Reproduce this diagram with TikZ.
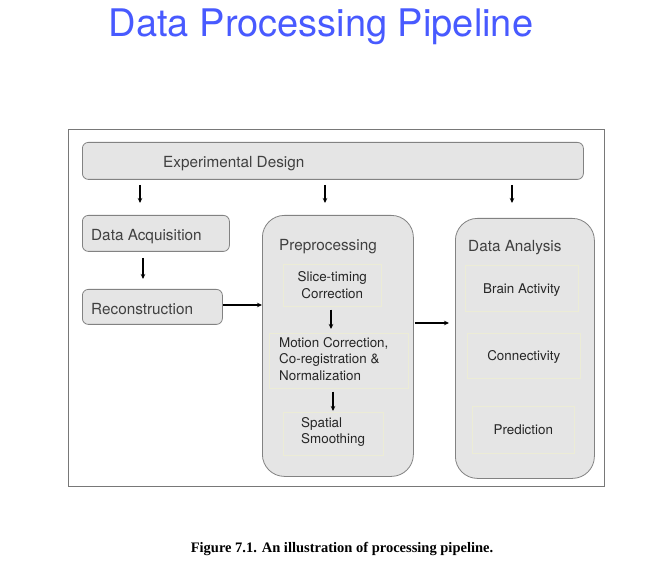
\documentclass[tikz,border=0pt]{standalone}
\usepackage{fontspec}
\setmainfont{TeX Gyre Heros}
\newfontfamily\capfont{Liberation Serif}
\usetikzlibrary{arrows.meta}
\definecolor{boxfill}{RGB}{229,229,229}
\definecolor{boxline}{RGB}{130,130,130}
\definecolor{subline}{RGB}{236,236,214}
\definecolor{titleblue}{RGB}{72,90,255}
\definecolor{framegray}{RGB}{120,120,120}
\tikzset{
  stagebox/.style={draw=boxline, fill=boxfill, line width=0.8pt, rounded corners=6pt, anchor=north west, inner sep=0pt},
  bigbox/.style={draw=boxline, fill=boxfill, line width=0.8pt, rounded corners=22pt, anchor=north west, inner sep=0pt},
  subbox/.style={draw=subline, fill=boxfill, line width=0.6pt, anchor=north west, inner sep=0pt, text=black!85, font=\fontsize{13.4}{16.5}\selectfont},
  subtxt/.style={inner sep=0pt, anchor=west, align=left, text=black!85, font=\fontsize{13.4}{16.5}\selectfont},
  flow/.style={-{Stealth[length=5pt,width=4.5pt]}, line width=1.3pt, black},
  lbl/.style={inner sep=0pt, anchor=west, yshift=-2.5pt, text=black!75, font=\fontsize{15.3}{18}\selectfont}
}
\begin{document}
\begin{tikzpicture}[x=1pt,y=-1pt]
\useasboundingbox (0,0) rectangle (651,569);
\fill[white] (0,0) rectangle (651,569);
% title
\node[text=titleblue, font=\fontsize{38}{42}\selectfont, inner sep=0pt] (title) at (321,27) {Data Processing Pipeline};
% frame
\node[draw=framegray, line width=0.8pt, anchor=north west, minimum width=536pt, minimum height=357pt, inner sep=0pt] (frame) at (68,129) {};
% experimental design
\node[stagebox, minimum width=501pt, minimum height=37pt] (ed) at (82,142) {};
\node[lbl] (edt) at (163,161) {Experimental Design};
% left column
\node[stagebox, minimum width=147pt, minimum height=36pt] (da) at (82,215) {};
\node[lbl] (dat) at (91,234) {Data Acquisition};
\node[stagebox, minimum width=140pt, minimum height=35pt] (rc) at (82,289) {};
\node[lbl] (rct) at (91,307) {Reconstruction};
% preprocessing
\node[bigbox, minimum width=151pt, minimum height=261pt] (pp) at (262,215) {};
\node[lbl] (ppt) at (279,244) {Preprocessing};
\node[subbox, minimum width=98pt, minimum height=42pt, align=center] (st) at (283,264) {Slice-timing\\Correction};
\node[subbox, minimum width=139pt, minimum height=55pt] (mc) at (269,333) {};
\node[subtxt] (mct) at (279,359) {Motion Correction,\\Co-registration \&\\Normalization};
\node[subbox, minimum width=100pt, minimum height=43pt] (sp) at (283,412) {};
\node[subtxt] (spt) at (301,432) {Spatial\\Smoothing};
% data analysis
\node[bigbox, minimum width=139pt, minimum height=260pt] (an) at (455,218) {};
\node[lbl] (ant) at (468,245) {Data Analysis};
\node[subbox, minimum width=113pt, minimum height=46pt, text height=9.5pt, text depth=0pt] (ba) at (465,265) {Brain Activity};
\node[subbox, minimum width=113pt, minimum height=45pt, text height=9.5pt, text depth=0pt] (cn) at (467,333) {Connectivity};
\node[subbox, minimum width=102pt, minimum height=47pt, text height=9.5pt, text depth=0pt] (pr) at (472,406) {Prediction};
% arrows
\coordinate (a1s) at (140,185); \coordinate (a1e) at (140,203);
\coordinate (a2s) at (325,185); \coordinate (a2e) at (325,203);
\coordinate (a3s) at (512,185); \coordinate (a3e) at (512,203);
\draw[flow] (a1s) -- (a1e);
\draw[flow] (a2s) -- (a2e);
\draw[flow] (a3s) -- (a3e);
\draw[flow] (143,258) -- (143,279);
\draw[flow] (rc.east |- 0,305) -- (pp.west |- 0,305);
\draw[flow] (st.south -| 331,0) ++(0,3) -- (331,329);
\draw[flow] (mc.south -| 333,0) ++(0,3) -- (333,411);
\draw[flow] (pp.east |- 0,323) ++(1,0) -- (449,323);
% caption
\node[font=\capfont\bfseries\fontsize{14.5}{17}\selectfont, inner sep=0pt] (cap) at (342,549) {Figure 7.1. An illustration of processing pipeline.};
\end{tikzpicture}
\end{document}
